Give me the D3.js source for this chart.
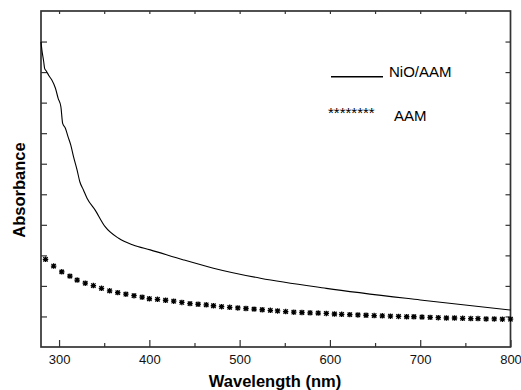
<!DOCTYPE html>
<html>
<head>
<meta charset="utf-8">
<script src="https://cdn.jsdelivr.net/npm/d3@7"></script>
<style>
  html, body { margin: 0; padding: 0; background: #fff; }
  svg { display: block; font-family: "Liberation Sans", Arial, sans-serif; }
</style>
</head>
<body>
<svg id="chart" width="521" height="390"></svg>
<script>
// ---- data ----
const nioWavelength = [280, 281, 283, 284, 286, 289, 292, 296, 299, 302, 304, 307, 310, 313, 316, 320, 323, 327, 331, 340, 351, 366, 382, 401, 438, 471, 523, 596, 700, 800];
const nioAbsorbance = [0.999, 0.972, 0.934, 0.912, 0.903, 0.887, 0.874, 0.847, 0.814, 0.787, 0.732, 0.716, 0.688, 0.661, 0.623, 0.579, 0.541, 0.514, 0.487, 0.448, 0.394, 0.356, 0.334, 0.318, 0.285, 0.258, 0.225, 0.192, 0.154, 0.121];

const aamWavelength = [285, 294, 303, 312, 320, 329, 338, 347, 356, 365, 374, 383, 392, 400, 409, 418, 427, 436, 445, 454, 463, 471, 480, 489, 498, 507, 516, 525, 534, 542, 551, 560, 569, 578, 587, 596, 605, 613, 622, 631, 640, 649, 658, 667, 676, 685, 693, 702, 711, 720, 729, 738, 747, 756, 764, 773, 782, 791, 800];
const aamAbsorbance = [0.287, 0.265, 0.246, 0.232, 0.219, 0.209, 0.201, 0.192, 0.184, 0.178, 0.173, 0.168, 0.163, 0.158, 0.156, 0.153, 0.150, 0.146, 0.142, 0.140, 0.138, 0.135, 0.132, 0.130, 0.128, 0.126, 0.124, 0.122, 0.120, 0.118, 0.116, 0.114, 0.113, 0.112, 0.111, 0.110, 0.108, 0.107, 0.106, 0.105, 0.104, 0.103, 0.102, 0.101, 0.100, 0.099, 0.099, 0.098, 0.097, 0.096, 0.095, 0.095, 0.094, 0.093, 0.093, 0.092, 0.092, 0.091, 0.091];

const xMajorTicks = [300, 400, 500, 600, 700, 800];
const xMinorTicks = [350, 450, 550, 650, 750];
const xTopTicks = [300, 350, 400, 450, 500, 550, 600, 650, 700, 750];
const yTicks = [0.1, 0.2, 0.3, 0.4, 0.5, 0.6, 0.7, 0.8, 0.9, 1.0];
const seriesNames = ["NiO/AAM", "AAM"];
const xTitle = "Wavelength (nm)";
const yTitle = "Absorbance";

// ---- drawing ----
const svg = d3.select("#chart");
const x = d3.scaleLinear().domain([280, 800]).range([41, 510.5]);
const y = d3.scaleLinear().domain([0, 1.1]).range([347, 11]);
const axisColor = "#333";

// bottom major
const gB = svg.append("g").attr("transform", `translate(0,${y(0)})`)
  .call(d3.axisBottom(x).tickValues(xMajorTicks).tickSizeInner(-7).tickSizeOuter(0).tickPadding(8).tickFormat(d3.format("d")));
gB.selectAll("text").attr("font-size", 13).attr("fill", "#111").attr("font-family", "Liberation Sans, Arial, sans-serif");
// bottom minor
svg.append("g").attr("transform", `translate(0,${y(0)})`)
  .call(d3.axisBottom(x).tickValues(xMinorTicks).tickSizeInner(-4).tickSizeOuter(0).tickFormat(""));
// top
svg.append("g").attr("transform", `translate(0,${y(1.1)})`)
  .call(d3.axisTop(x).tickValues(xTopTicks).tickSizeInner(-3).tickSizeOuter(0).tickFormat(""));
// left
svg.append("g").attr("transform", `translate(${x(280)},0)`)
  .call(d3.axisLeft(y).tickValues(yTicks).tickSizeInner(-6).tickSizeOuter(0).tickFormat(""));
// right
svg.append("g").attr("transform", `translate(${x(800)},0)`)
  .call(d3.axisRight(y).tickValues(yTicks).tickSizeInner(-5).tickSizeOuter(0).tickFormat(""));

svg.selectAll(".domain").remove();
svg.selectAll(".tick line").attr("stroke", axisColor).attr("stroke-width", 1.2);

// frame
svg.append("rect")
  .attr("x", x(280)).attr("y", y(1.1))
  .attr("width", x(800) - x(280)).attr("height", y(0) - y(1.1))
  .attr("fill", "none").attr("stroke", axisColor).attr("stroke-width", 1.7);

// NiO/AAM line
const line = d3.line().x(d => x(d[0])).y(d => y(d[1])).curve(d3.curveMonotoneX);
svg.append("path")
  .datum(d3.zip(nioWavelength, nioAbsorbance))
  .attr("d", line)
  .attr("fill", "none").attr("stroke", "#000").attr("stroke-width", 1.1);

// AAM markers (asterisk: plus + cross)
const starSymbol = {
  draw(ctx, size) {
    const r = Math.sqrt(size) / 2;
    const d = r * 0.8;
    ctx.moveTo(-r, 0); ctx.lineTo(r, 0);
    ctx.moveTo(0, -r); ctx.lineTo(0, r);
    ctx.moveTo(-d, -d); ctx.lineTo(d, d);
    ctx.moveTo(-d, d); ctx.lineTo(d, -d);
  }
};
const sym = d3.symbol().type(starSymbol).size(30);
svg.append("g").selectAll("path")
  .data(d3.zip(aamWavelength, aamAbsorbance))
  .join("path")
  .attr("transform", d => `translate(${x(d[0])},${y(d[1])})`)
  .attr("d", sym)
  .attr("fill", "none").attr("stroke", "#000").attr("stroke-width", 1.3);

// legend
svg.append("line").attr("x1", 331).attr("x2", 383).attr("y1", 76.7).attr("y2", 76.7)
  .attr("stroke", "#000").attr("stroke-width", 1.4);
svg.append("text").attr("x", 389).attr("y", 77).attr("font-size", 15).attr("fill", "#000").text(seriesNames[0]);
svg.append("text").attr("x", 328).attr("y", 118).attr("font-size", 15).attr("fill", "#000").text("********");
svg.append("text").attr("x", 394).attr("y", 121).attr("font-size", 15).attr("fill", "#000").text(seriesNames[1]);

// axis titles
svg.append("text").attr("x", 275).attr("y", 387).attr("text-anchor", "middle")
  .attr("font-size", 16.5).attr("font-weight", "bold").attr("fill", "#000").text(xTitle);
svg.append("text").attr("transform", "translate(25,190) rotate(-90)").attr("text-anchor", "middle")
  .attr("font-size", 16.5).attr("font-weight", "bold").attr("fill", "#000").text(yTitle);
</script>
</body>
</html>
